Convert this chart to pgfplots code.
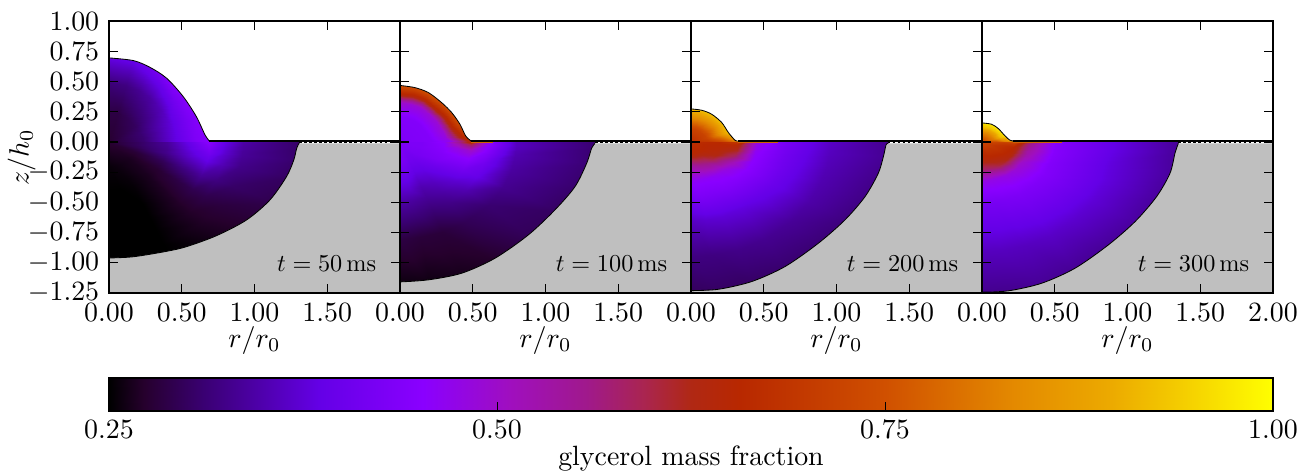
\documentclass[border=0pt]{standalone}
\usepackage{pgfplots}
\pgfplotsset{compat=1.18}
\definecolor{solidgrey}{HTML}{BFBFBF}
\definecolor{film}{HTML}{D06000}
\tikzset{tlabel/.style={anchor=east, inner sep=0pt, scale=0.87}}
\pgfplotsset{
  colormap={glyc}{rgb255(0)=(0,0,0) rgb255(30)=(38,0,45) rgb255(82)=(58,0,115) rgb255(180)=(100,0,230) rgb255(270)=(138,0,255) rgb255(345)=(160,15,190) rgb255(410)=(160,25,140) rgb255(460)=(170,37,80) rgb255(500)=(176,40,20) rgb255(542)=(184,40,0) rgb255(667)=(208,80,0) rgb255(778)=(228,138,0) rgb255(861)=(236,170,0) rgb255(926)=(245,208,0) rgb255(1000)=(255,255,0)},
  panel/.style={
    anchor=south west, scale only axis, width=103.93bp, height=97.14bp,
    xmin=0, xmax=2, ymin=-1.25, ymax=1,
    xtick={0,0.5,1,1.5,2}, ytick={-1.25,-1,-0.75,-0.5,-0.25,0,0.25,0.5,0.75,1},
    tick align=inside, tickwidth=3.2bp, major tick style={line width=0.42bp,black},
    axis line style={line width=0.45bp}, axis on top,
    point meta min=0.25, point meta max=1,
    xticklabel style={/pgf/number format/fixed,/pgf/number format/fixed zerofill,/pgf/number format/precision=2},
    yticklabel style={/pgf/number format/fixed,/pgf/number format/fixed zerofill,/pgf/number format/precision=2},
    scaled ticks=false,
    xlabel={$r/r_0$}, xlabel style={yshift=5.3bp},
  },
  outl/.style={black, line width=0.3bp, no marks, smooth},
  wmask/.style={draw=none, fill=white, smooth, no marks},
  gmask/.style={draw=none, fill=solidgrey, smooth, no marks},
}
\begin{document}
\begin{tikzpicture}
\useasboundingbox (0,0) rectangle (468.2bp,167.86bp);
% ---------- panel 1 ----------
\begin{axis}[panel, at={(38.93bp,63.21bp)}, xticklabels={0.00,0.50,1.00,1.50,}, ylabel={$z/h_0$}, ylabel style={yshift=-9.6bp}]
\addplot[surf, shader=interp, point meta=explicit, data cs=polar, mesh/rows=10, mesh/cols=8] table[meta index=2] {
0 0 .275
0 .2 .30
0 .4 .335
0 .55 .39
0 .69 .45
0 .8 .385
0 .92 .345
0 1.306 .305
-2.3 0 .275
-2.3 .2 .30
-2.3 .4 .335
-2.3 .55 .385
-2.3 .69 .44
-2.3 .8 .38
-2.3 .92 .34
-2.3 1.31 .305
-6.7 0 .275
-6.7 .2 .30
-6.7 .4 .33
-6.7 .55 .375
-6.7 .69 .415
-6.7 .8 .37
-6.7 .92 .335
-6.7 1.33 .305
-13 0 .275
-13 .2 .295
-13 .4 .325
-13 .55 .36
-13 .69 .385
-13 .8 .355
-13 .92 .325
-13 1.30 .30
-23.5 0 .275
-23.5 .2 .278
-23.5 .4 .295
-23.5 .55 .318
-23.5 .69 .335
-23.5 .8 .32
-23.5 .92 .305
-23.5 1.26 .29
-34.3 0 .275
-34.3 .2 .27
-34.3 .4 .275
-34.3 .55 .285
-34.3 .69 .292
-34.3 .8 .29
-34.3 .92 .282
-34.3 1.20 .275
-46.6 0 .275
-46.6 .2 .265
-46.6 .4 .265
-46.6 .55 .268
-46.6 .69 .27
-46.6 .8 .27
-46.6 .92 .268
-46.6 1.13 .262
-66 0 .275
-66 .2 .26
-66 .4 .253
-66 .55 .25
-66 .69 .25
-66 .8 .25
-66 .92 .25
-66 1.04 .25
-78 0 .275
-78 .2 .257
-78 .4 .25
-78 .55 .25
-78 .69 .25
-78 .8 .25
-78 .92 .25
-78 1.02 .25
-90 0 .275
-90 .2 .255
-90 .4 .25
-90 .55 .25
-90 .69 .25
-90 .8 .25
-90 .92 .25
-90 1.01 .25
};
\addplot[surf, shader=interp, point meta=explicit, data cs=polar, mesh/rows=8, mesh/cols=5] table[meta index=2] {
90 0 .275
90 .242 .285
90 .484 .315
90 .609 .355
90 .72 .39
76 0 .275
76 .243 .285
76 .485 .32
76 .61 .36
76 .72 .40
65.6 0 .275
65.6 .237 .29
65.6 .475 .33
65.6 .597 .375
65.6 .71 .42
53.1 0 .275
53.1 .231 .295
53.1 .461 .34
53.1 .58 .39
53.1 .69 .45
36.3 0 .275
36.3 .222 .30
36.3 .443 .355
36.3 .557 .41
36.3 .66 .45
19.3 0 .275
19.3 .223 .31
19.3 .445 .375
19.3 .56 .42
19.3 .66 .45
5 0 .275
5 .232 .31
5 .464 .385
5 .583 .43
5 .69 .45
0 0 .275
0 .242 .31
0 .483 .39
0 .607 .435
0 .69 .45
};
\addplot[wmask] coordinates {(0,.695) (.167,.673) (.28,.618) (.396,.527) (.51,.375) (.60,.21) (.66,.058) (.69,.008)} -- (axis cs:2,.008) -- (axis cs:2,1.01) -- (axis cs:0,1.01) -- cycle;
\addplot[gmask] coordinates {(1.306,-.012) (1.29,-.052) (1.27,-.149) (1.22,-.287) (1.106,-.48) (.946,-.645) (.74,-.775) (.534,-.866) (.396,-.905) (.167,-.95) (0,-.96)} -- (axis cs:0,-1.26) -- (axis cs:2,-1.26) -- (axis cs:2,-.012) -- cycle;
\addplot[outl] coordinates {(0,.695) (.167,.673) (.28,.618) (.396,.527) (.51,.375) (.60,.21) (.66,.058) (.69,.008)};
\addplot[outl] coordinates {(1.306,-.012) (1.29,-.052) (1.27,-.149) (1.22,-.287) (1.106,-.48) (.946,-.645) (.74,-.775) (.534,-.866) (.396,-.905) (.167,-.95) (0,-.96)};
\addplot[black, line width=0.45bp] coordinates {(0.69,0.008) (2,0.008)};
\addplot[black, line width=0.3bp, dash pattern=on 0.9bp off 0.9bp] coordinates {(1.306,-0.008) (2,-0.008)};
\node[tlabel] at (axis cs:1.84,-1.01) {$t = 50\,\mathrm{ms}$};
\end{axis}
% ---------- panel 2 ----------
\begin{axis}[panel, at={(142.86bp,63.21bp)}, xticklabels={0.00,0.50,1.00,1.50,}, yticklabels={}]
\addplot[surf, shader=interp, point meta=explicit, data cs=polar, mesh/rows=10, mesh/cols=8] table[meta index=2] {
0 0 .43
0 .15 .43
0 .3 .46
0 .4 .55
0 .49 .66
0 .6 .47
0 .8 .36
0 1.34 .31
-2.3 0 .43
-2.3 .15 .43
-2.3 .3 .455
-2.3 .4 .52
-2.3 .49 .60
-2.3 .6 .46
-2.3 .8 .36
-2.3 1.34 .31
-7.8 0 .43
-7.8 .15 .43
-7.8 .3 .45
-7.8 .4 .48
-7.8 .49 .50
-7.8 .6 .44
-7.8 .8 .35
-7.8 1.34 .31
-17 0 .43
-17 .15 .43
-17 .3 .44
-17 .4 .45
-17 .49 .45
-17 .6 .41
-17 .8 .34
-17 1.31 .305
-27.8 0 .43
-27.8 .15 .425
-27.8 .3 .43
-27.8 .4 .42
-27.8 .49 .41
-27.8 .6 .39
-27.8 .8 .33
-27.8 1.25 .30
-41.1 0 .43
-41.1 .15 .42
-41.1 .3 .40
-41.1 .4 .385
-41.1 .49 .37
-41.1 .6 .35
-41.1 .8 .31
-41.1 1.22 .295
-55.8 0 .43
-55.8 .15 .41
-55.8 .3 .38
-55.8 .4 .36
-55.8 .49 .345
-55.8 .6 .325
-55.8 .8 .295
-55.8 1.21 .27
-68.7 0 .43
-68.7 .15 .41
-68.7 .3 .375
-68.7 .4 .35
-68.7 .49 .335
-68.7 .6 .315
-68.7 .8 .28
-68.7 1.21 .262
-80.3 0 .43
-80.3 .15 .42
-80.3 .3 .39
-80.3 .4 .365
-80.3 .49 .34
-80.3 .6 .32
-80.3 .8 .28
-80.3 1.21 .257
-90 0 .43
-90 .15 .425
-90 .3 .395
-90 .4 .37
-90 .49 .345
-90 .6 .325
-90 .8 .285
-90 1.21 .255
};
\addplot[surf, shader=interp, point meta=explicit, data cs=polar, mesh/rows=9, mesh/cols=5] table[meta index=2] {
90 0 .43
90 .21 .44
90 .327 .50
90 .397 .65
90 .49 .77
77 0 .43
77 .207 .44
77 .323 .49
77 .392 .64
77 .48 .77
64.5 0 .43
64.5 .203 .44
64.5 .316 .49
64.5 .384 .64
64.5 .47 .77
48.6 0 .43
48.6 .195 .44
48.6 .303 .49
48.6 .368 .64
48.6 .455 .77
34.4 0 .43
34.4 .194 .44
34.4 .301 .49
34.4 .366 .64
34.4 .45 .77
19.5 0 .43
19.5 .197 .44
19.5 .306 .49
19.5 .371 .64
19.5 .46 .77
6.3 0 .43
6.3 .204 .44
6.3 .318 .48
6.3 .386 .60
6.3 .475 .72
1 0 .43
1 .22 .44
1 .342 .47
1 .415 .56
1 .50 .68
0 0 .43
0 .22 .44
0 .343 .46
0 .417 .55
0 .49 .66
};
\addplot[wmask] coordinates {(0,.467) (.103,.449) (.195,.408) (.286,.325) (.355,.243) (.412,.146) (.451,.05) (.488,.008)} -- (axis cs:2,.008) -- (axis cs:2,1.01) -- (axis cs:0,1.01) -- cycle;
\addplot[gmask] coordinates {(1.34,-.012) (1.317,-.052) (1.283,-.176) (1.203,-.369) (1.065,-.562) (.882,-.769) (.653,-.962) (.424,-1.086) (.195,-1.141) (0,-1.158)} -- (axis cs:0,-1.26) -- (axis cs:2,-1.26) -- (axis cs:2,-.012) -- cycle;
\addplot[outl] coordinates {(0,.467) (.103,.449) (.195,.408) (.286,.325) (.355,.243) (.412,.146) (.451,.05) (.488,.008)};
\addplot[outl] coordinates {(1.34,-.012) (1.317,-.052) (1.283,-.176) (1.203,-.369) (1.065,-.562) (.882,-.769) (.653,-.962) (.424,-1.086) (.195,-1.141) (0,-1.158)};
\addplot[film, line width=0.22bp] coordinates {(.49,-.001) (.64,-.001)};
\addplot[black, line width=0.45bp] coordinates {(0.49,0.008) (2,0.008)};
\addplot[black, line width=0.3bp, dash pattern=on 0.9bp off 0.9bp] coordinates {(1.34,-0.008) (2,-0.008)};
\node[tlabel] at (axis cs:1.84,-1.01) {$t = 100\,\mathrm{ms}$};
\end{axis}
% ---------- panel 3 ----------
\begin{axis}[panel, at={(246.79bp,63.21bp)}, xticklabels={0.00,0.50,1.00,1.50,}, yticklabels={}]
\addplot[surf, shader=interp, point meta=explicit, data cs=polar, mesh/rows=10, mesh/cols=8] table[meta index=2] {
0 0 .67
0 .1 .66
0 .2 .66
0 .32 .69
0 .45 .48
0 .65 .42
0 .95 .365
0 1.352 .33
-5.2 0 .67
-5.2 .1 .66
-5.2 .2 .655
-5.2 .32 .65
-5.2 .45 .47
-5.2 .65 .415
-5.2 .95 .36
-5.2 1.38 .33
-11.4 0 .67
-11.4 .1 .655
-11.4 .2 .65
-11.4 .32 .62
-11.4 .45 .46
-11.4 .65 .41
-11.4 .95 .355
-11.4 1.36 .325
-20.7 0 .67
-20.7 .1 .655
-20.7 .2 .645
-20.7 .32 .58
-20.7 .45 .455
-20.7 .65 .405
-20.7 .95 .35
-20.7 1.33 .32
-31.4 0 .67
-31.4 .1 .655
-31.4 .2 .63
-31.4 .32 .52
-31.4 .45 .45
-31.4 .65 .40
-31.4 .95 .345
-31.4 1.29 .315
-43.8 0 .67
-43.8 .1 .655
-43.8 .2 .60
-43.8 .32 .48
-43.8 .45 .44
-43.8 .65 .39
-43.8 .95 .335
-43.8 1.26 .31
-57.9 0 .67
-57.9 .1 .65
-57.9 .2 .57
-57.9 .32 .465
-57.9 .45 .435
-57.9 .65 .38
-57.9 .95 .33
-57.9 1.27 .305
-70.1 0 .67
-70.1 .1 .65
-70.1 .2 .55
-70.1 .32 .46
-70.1 .45 .43
-70.1 .65 .375
-70.1 .95 .325
-70.1 1.28 .30
-81.2 0 .67
-81.2 .1 .65
-81.2 .2 .54
-81.2 .32 .46
-81.2 .45 .43
-81.2 .65 .37
-81.2 .95 .32
-81.2 1.28 .30
-90 0 .67
-90 .1 .65
-90 .2 .535
-90 .32 .46
-90 .45 .425
-90 .65 .365
-90 .95 .32
-90 1.28 .295
};
\addplot[surf, shader=interp, point meta=explicit, data cs=polar, mesh/rows=7, mesh/cols=4] table[meta index=2] {
90 0 .67
90 .109 .72
90 .191 .82
90 .29 .93
74.4 0 .67
74.4 .109 .72
74.4 .19 .82
74.4 .29 .94
58.2 0 .67
58.2 .108 .72
58.2 .188 .82
58.2 .29 .95
37.2 0 .67
37.2 .106 .72
37.2 .186 .82
37.2 .285 .95
16.7 0 .67
16.7 .107 .72
16.7 .188 .82
16.7 .29 .94
2.6 0 .67
2.6 .121 .70
2.6 .211 .74
2.6 .32 .85
0 0 .67
0 .128 .68
0 .224 .72
0 .32 .82
};
\addplot[wmask] coordinates {(0,.273) (.073,.262) (.142,.229) (.211,.16) (.257,.077) (.302,.014) (.32,.008)} -- (axis cs:2,.008) -- (axis cs:2,1.01) -- (axis cs:0,1.01) -- cycle;
\addplot[gmask] coordinates {(1.352,-.012) (1.34,-.025) (1.322,-.121) (1.287,-.259) (1.196,-.452) (1.058,-.645) (.875,-.838) (.646,-1.031) (.417,-1.155) (.188,-1.219) (0,-1.23)} -- (axis cs:0,-1.26) -- (axis cs:2,-1.26) -- (axis cs:2,-.012) -- cycle;
\addplot[outl] coordinates {(0,.273) (.073,.262) (.142,.229) (.211,.16) (.257,.077) (.302,.014) (.32,.008)};
\addplot[outl] coordinates {(1.352,-.012) (1.34,-.025) (1.322,-.121) (1.287,-.259) (1.196,-.452) (1.058,-.645) (.875,-.838) (.646,-1.031) (.417,-1.155) (.188,-1.219) (0,-1.23)};
\addplot[film, line width=0.22bp] coordinates {(.32,-.001) (.6,-.001)};
\addplot[black, line width=0.45bp] coordinates {(0.32,0.008) (2,0.008)};
\addplot[black, line width=0.3bp, dash pattern=on 0.9bp off 0.9bp] coordinates {(1.352,-0.008) (2,-0.008)};
\node[tlabel] at (axis cs:1.84,-1.01) {$t = 200\,\mathrm{ms}$};
\end{axis}
% ---------- panel 4 ----------
\begin{axis}[panel, at={(350.71bp,63.21bp)}, xticklabels={0.00,0.50,1.00,1.50,2.00}, yticklabels={}]
\addplot[surf, shader=interp, point meta=explicit, data cs=polar, mesh/rows=10, mesh/cols=8] table[meta index=2] {
0 0 .72
0 .08 .72
0 .15 .72
0 .22 .74
0 .32 .58
0 .5 .45
0 .9 .385
0 1.349 .335
-4 0 .72
-4 .08 .71
-4 .15 .70
-4 .22 .69
-4 .32 .56
-4 .5 .445
-4 .9 .385
-4 1.36 .335
-11.3 0 .72
-11.3 .08 .70
-11.3 .15 .68
-11.3 .22 .66
-11.3 .32 .54
-11.3 .5 .445
-11.3 .9 .38
-11.3 1.37 .335
-20.6 0 .72
-20.6 .08 .69
-20.6 .15 .67
-20.6 .22 .65
-20.6 .32 .52
-20.6 .5 .44
-20.6 .9 .38
-20.6 1.33 .335
-32.1 0 .72
-32.1 .08 .69
-32.1 .15 .665
-32.1 .22 .64
-32.1 .32 .50
-32.1 .5 .44
-32.1 .9 .375
-32.1 1.29 .335
-44.5 0 .72
-44.5 .08 .68
-44.5 .15 .655
-44.5 .22 .62
-44.5 .32 .49
-44.5 .5 .435
-44.5 .9 .37
-44.5 1.27 .33
-58.6 0 .72
-58.6 .08 .68
-58.6 .15 .65
-58.6 .22 .605
-58.6 .32 .48
-58.6 .5 .43
-58.6 .9 .365
-58.6 1.27 .33
-70.7 0 .72
-70.7 .08 .675
-70.7 .15 .645
-70.7 .22 .59
-70.7 .32 .475
-70.7 .5 .425
-70.7 .9 .36
-70.7 1.29 .33
-81.6 0 .72
-81.6 .08 .67
-81.6 .15 .64
-81.6 .22 .585
-81.6 .32 .475
-81.6 .5 .42
-81.6 .9 .36
-81.6 1.29 .325
-90 0 .72
-90 .08 .67
-90 .15 .64
-90 .22 .58
-90 .32 .475
-90 .5 .42
-90 .9 .36
-90 1.29 .325
};
\addplot[surf, shader=interp, point meta=explicit, data cs=polar, mesh/rows=6, mesh/cols=4] table[meta index=2] {
90 0 .72
90 .078 .83
90 .126 .92
90 .175 .98
65.7 0 .72
65.7 .08 .83
65.7 .128 .93
65.7 .18 1
44.5 0 .72
44.5 .078 .83
44.5 .126 .93
44.5 .175 1
17.6 0 .72
17.6 .083 .82
17.6 .133 .92
17.6 .185 .98
4 0 .72
4 .097 .76
4 .154 .82
4 .21 .90
0 0 .72
0 .108 .74
0 .172 .78
0 .215 .85
};
\addplot[wmask] coordinates {(0,.157) (.066,.146) (.112,.11) (.158,.05) (.192,.014) (.215,.008)} -- (axis cs:2,.008) -- (axis cs:2,1.01) -- (axis cs:0,1.01) -- cycle;
\addplot[gmask] coordinates {(1.349,-.012) (1.326,-.094) (1.292,-.259) (1.2,-.452) (1.052,-.659) (.868,-.852) (.639,-1.045) (.41,-1.169) (.181,-1.232) (0,-1.243)} -- (axis cs:0,-1.26) -- (axis cs:2,-1.26) -- (axis cs:2,-.012) -- cycle;
\addplot[outl] coordinates {(0,.157) (.066,.146) (.112,.11) (.158,.05) (.192,.014) (.215,.008)};
\addplot[outl] coordinates {(1.349,-.012) (1.326,-.094) (1.292,-.259) (1.2,-.452) (1.052,-.659) (.868,-.852) (.639,-1.045) (.41,-1.169) (.181,-1.232) (0,-1.243)};
\addplot[film, line width=0.22bp] coordinates {(.215,-.001) (.55,-.001)};
\addplot[black, line width=0.45bp] coordinates {(0.215,0.008) (2,0.008)};
\addplot[black, line width=0.3bp, dash pattern=on 0.9bp off 0.9bp] coordinates {(1.349,-0.008) (2,-0.008)};
\node[tlabel] at (axis cs:1.84,-1.01) {$t = 300\,\mathrm{ms}$};
\end{axis}
% ---------- colour bar ----------
\begin{axis}[anchor=south west, at={(38.93bp,21.07bp)}, scale only axis, width=415.71bp, height=11.79bp,
  xmin=0.25, xmax=1, ymin=0, ymax=1, ytick=\empty, xtick={0.25,0.5,0.75,1}, xtick pos=bottom,
  tick align=inside, tickwidth=3.1bp, major tick style={line width=0.25bp,black},
  axis line style={line width=0.65bp}, axis on top, point meta min=0.25, point meta max=1,
  xticklabel style={/pgf/number format/fixed,/pgf/number format/fixed zerofill,/pgf/number format/precision=2},
  xlabel={glycerol mass fraction}, xlabel style={yshift=4.5bp}]
\addplot[surf, shader=interp, point meta=explicit, mesh/rows=2, mesh/cols=15] table[meta index=2] {
.25 0 .25
.2725 0 .2725
.3115 0 .3115
.385 0 .385
.4525 0 .4525
.50875 0 .50875
.5575 0 .5575
.595 0 .595
.625 0 .625
.6565 0 .6565
.75025 0 .75025
.8335 0 .8335
.89575 0 .89575
.9445 0 .9445
1 0 1
.25 1 .25
.2725 1 .2725
.3115 1 .3115
.385 1 .385
.4525 1 .4525
.50875 1 .50875
.5575 1 .5575
.595 1 .595
.625 1 .625
.6565 1 .6565
.75025 1 .75025
.8335 1 .8335
.89575 1 .89575
.9445 1 .9445
1 1 1
};
\end{axis}
\end{tikzpicture}
\end{document}
